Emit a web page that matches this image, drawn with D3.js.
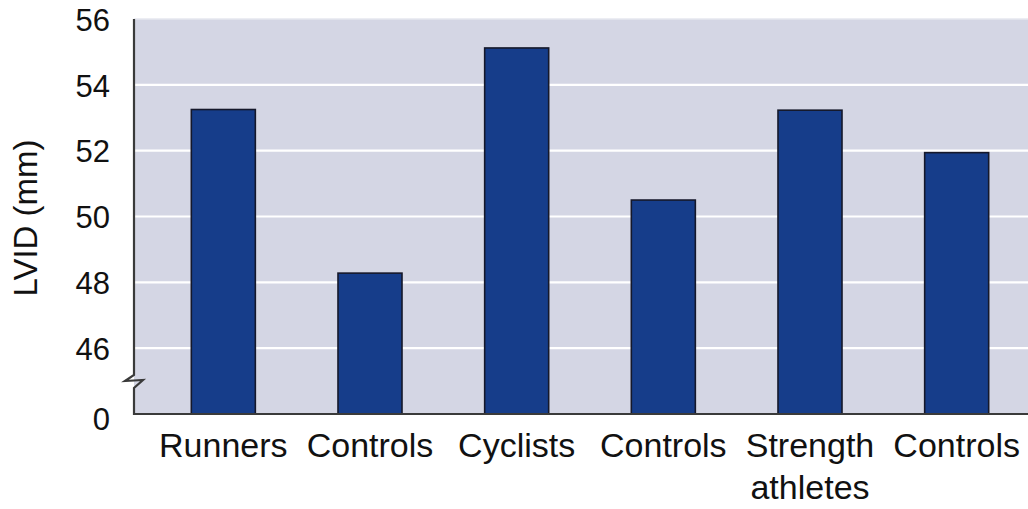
<!DOCTYPE html>
<html>
<head>
<meta charset="utf-8">
<script src="https://cdn.jsdelivr.net/npm/d3@7"></script>
<style>
  html, body { margin: 0; padding: 0; background: #fff; }
  svg { display: block; }
  text { font-family: "Liberation Sans", Arial, Helvetica, sans-serif; fill: #111; }
</style>
</head>
<body>
<svg id="chart" width="1028" height="509"></svg>
<script>
const categories = ["Runners", "Controls", "Cyclists", "Controls", "Strength\nathletes", "Controls"];
const values = [53.25, 48.28, 55.12, 50.5, 53.23, 51.94];
const tickValues = [44, 46, 48, 50, 52, 54, 56];
const tickLabels = ["0", "46", "48", "50", "52", "54", "56"];
const yLabel = "LVID (mm)";

const W = 1028, H = 509;
const plot = { left: 134, right: 1028, top: 19, bottom: 414 };

const svg = d3.select("#chart");

const y = d3.scaleLinear().domain([44, 56]).range([plot.bottom, plot.top]);
const x = d3.scaleBand()
  .domain(d3.range(categories.length))
  .range([150, 1030])
  .paddingInner(0.5636)
  .paddingOuter(0.2818);

// background
svg.append("rect")
  .attr("x", plot.left).attr("y", plot.top)
  .attr("width", plot.right - plot.left).attr("height", plot.bottom - plot.top)
  .attr("fill", "#d4d6e4");

// top light edge
svg.append("line")
  .attr("x1", plot.left).attr("x2", plot.right)
  .attr("y1", plot.top).attr("y2", plot.top)
  .attr("stroke", "#e6e7ef").attr("stroke-width", 1.5);

// gridlines
svg.append("g").selectAll("line")
  .data(tickValues.filter(v => v > 44 && v < 56))
  .join("line")
  .attr("x1", plot.left).attr("x2", plot.right)
  .attr("y1", d => y(d)).attr("y2", d => y(d))
  .attr("stroke", "#ffffff").attr("stroke-width", 2.2);

// bars
svg.append("g").selectAll("rect")
  .data(values)
  .join("rect")
  .attr("x", (d, i) => x(i))
  .attr("y", d => y(d))
  .attr("width", x.bandwidth())
  .attr("height", d => plot.bottom - y(d))
  .attr("fill", "#163d8a")
  .attr("stroke", "#15182a")
  .attr("stroke-width", 1.6);

// y axis with break
const axisPath = d3.path();
axisPath.moveTo(plot.left, plot.top);
axisPath.lineTo(plot.left, 375);
axisPath.lineTo(125, 381);
axisPath.lineTo(143, 380);
axisPath.lineTo(plot.left, 388);
axisPath.lineTo(plot.left, plot.bottom);
axisPath.lineTo(plot.right, plot.bottom);
svg.append("path")
  .attr("d", axisPath.toString())
  .attr("fill", "none")
  .attr("stroke", "#3a3a3a")
  .attr("stroke-width", 2.2)
  .attr("stroke-linejoin", "miter");

// y tick labels via d3 axis
const yAxis = d3.axisLeft(y)
  .tickValues(tickValues)
  .tickSize(0)
  .tickPadding(24)
  .tickFormat((d, i) => tickLabels[i]);
const gy = svg.append("g").attr("transform", `translate(${plot.left},0)`).call(yAxis);
gy.select(".domain").remove();
gy.selectAll("text")
  .attr("font-size", 31)
  .attr("font-family", "Liberation Sans, Arial, sans-serif")
  .attr("fill", "#111")
  .attr("dy", "0.36em");
gy.selectAll(".tick").filter(d => d === 44).select("text").attr("dy", "0.5em");

// x labels
const xl = svg.append("g").selectAll("text")
  .data(categories)
  .join("text")
  .attr("x", (d, i) => x(i) + x.bandwidth() / 2)
  .attr("y", 457)
  .attr("text-anchor", "middle")
  .attr("font-size", 34);
xl.each(function(d) {
  const lines = d.split("\n");
  const t = d3.select(this);
  lines.forEach((ln, k) => {
    t.append("tspan")
      .attr("x", t.attr("x"))
      .attr("dy", k === 0 ? 0 : 42)
      .text(ln);
  });
});

// y label
svg.append("text")
  .attr("transform", `translate(37,218) rotate(-90)`)
  .attr("text-anchor", "middle")
  .attr("font-size", 33)
  .text(yLabel);
</script>
</body>
</html>
